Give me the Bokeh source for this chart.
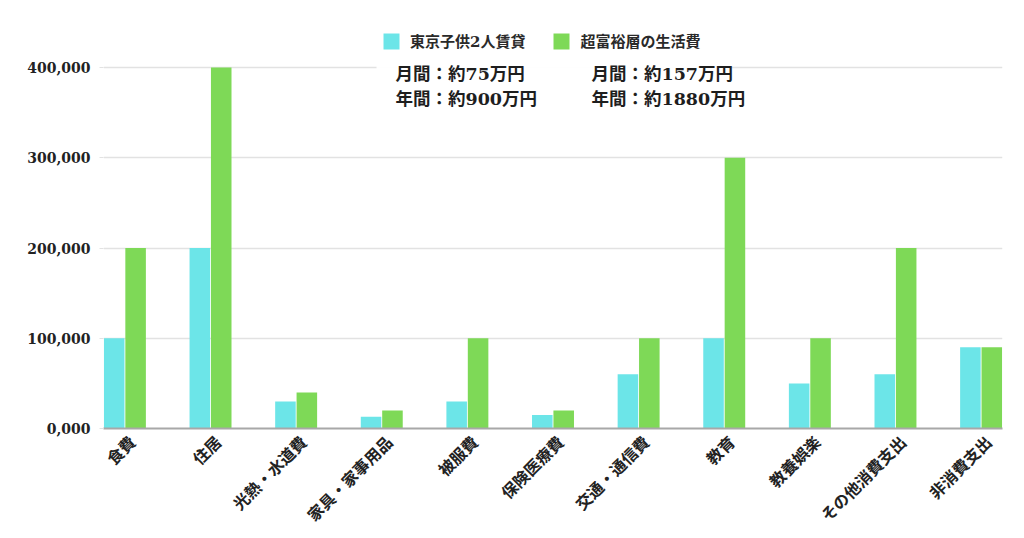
import numpy as np
from bokeh.plotting import figure
from bokeh.models import (ColumnDataSource, Range1d, FixedTicker, Legend, LegendItem,
                          Label, BoxAnnotation)
from bokeh.embed import file_html
from bokeh.resources import INLINE
from math import pi

categories = ["食費", "住居", "光熱・水道費", "家具・家事用品", "被服費", "保険医療費",
              "交通・通信費", "教育", "教養娯楽", "その他消費支出", "非消費支出"]
tokyo_rent = [100000, 200000, 30000, 13000, 30000, 15000, 60000, 100000, 50000, 60000, 90000]
wealthy = [200000, 400000, 40000, 20000, 100000, 20000, 100000, 300000, 100000, 200000, 90000]
series_names = ["東京子供2人賃貸", "超富裕層の生活費"]
y_ticks = [0, 100000, 200000, 300000, 400000]
y_tick_labels = ["0,000", "100,000", "200,000", "300,000", "400,000"]
notes_left = ["月間：約75万円", "年間：約900万円"]
notes_right = ["月間：約157万円", "年間：約1880万円"]

CYAN = "#6ce5e8"
GREEN = "#7ed957"
FONT = "DejaVu Serif, Noto Sans CJK JP"

# layout (pixels)
W, H = 1024, 538
FRAME_TOP, FRAME_BOTTOM, FRAME_LEFT, FRAME_RIGHT = 25, 428, 103, 1002
TOP_TICK_PX = 67  # pixel row of the highest tick
y_end = y_ticks[-1] * (FRAME_BOTTOM - FRAME_TOP) / (FRAME_BOTTOM - TOP_TICK_PX)
LABEL_SHIFT = 0.095  # x-label anchor offset (category units)

idx = np.arange(len(categories))
src = ColumnDataSource(dict(
    x1=idx - 0.125, x2=idx + 0.125, a=tokyo_rent, b=wealthy))

p = figure(width=W, height=H, output_backend="svg", toolbar_location=None,
           x_range=Range1d(-0.25, len(categories) - 0.75), y_range=Range1d(0, y_end),
           min_border_left=FRAME_LEFT, min_border_right=W - FRAME_RIGHT,
           min_border_top=FRAME_TOP, min_border_bottom=H - FRAME_BOTTOM)
p.outline_line_color = None
p.background_fill_color = "white"

r1 = p.vbar(x="x1", top="a", width=0.24, source=src, fill_color=CYAN, line_color=None)
r2 = p.vbar(x="x2", top="b", width=0.24, source=src, fill_color=GREEN, line_color=None)

# axes
p.xgrid.grid_line_color = None
p.ygrid.grid_line_color = "#e2e2e2"
p.ygrid.grid_line_width = 1.5
p.yaxis.ticker = FixedTicker(ticks=y_ticks)
p.yaxis.major_label_overrides = {t: l for t, l in zip(y_ticks, y_tick_labels)}
p.yaxis.axis_line_color = None
p.yaxis.major_tick_in = 0
p.yaxis.major_tick_out = 4
p.yaxis.major_tick_line_color = "#e2e2e2"
p.yaxis.minor_tick_line_color = None
p.yaxis.major_label_standoff = 9
p.yaxis.major_label_text_font = FONT
p.yaxis.major_label_text_font_style = "bold"
p.yaxis.major_label_text_font_size = "14px"
p.yaxis.major_label_text_color = "#222222"

x_ticks = [float(i) + LABEL_SHIFT for i in idx]
p.xaxis.ticker = FixedTicker(ticks=x_ticks)
p.xaxis.major_label_overrides = {t: c for t, c in zip(x_ticks, categories)}
p.xaxis.major_label_orientation = pi / 4
p.xaxis.axis_line_color = "#a8a8a8"
p.xaxis.axis_line_width = 2
p.xaxis.major_tick_line_color = None
p.xaxis.minor_tick_line_color = None
p.xaxis.major_tick_out = 0
p.xaxis.major_tick_in = 0
p.xaxis.major_label_standoff = 11
p.xaxis.major_label_text_font = FONT
p.xaxis.major_label_text_font_style = "bold"
p.xaxis.major_label_text_font_size = "16px"
p.xaxis.major_label_text_color = "#222222"

# legend (frame-relative position, from bottom-left of the frame)
legend = Legend(items=[LegendItem(label=series_names[0], renderers=[r1]),
                       LegendItem(label=series_names[1], renderers=[r2])],
                orientation="horizontal",
                location=(381 - FRAME_LEFT, FRAME_BOTTOM - 51),
                padding=0, margin=0, spacing=26, label_standoff=9,
                glyph_width=20, glyph_height=20, label_height=20,
                border_line_color=None, background_fill_alpha=0,
                label_text_font=FONT, label_text_font_style="bold",
                label_text_font_size="15px", label_text_color="#2a2a2a")
p.add_layout(legend, "center")

# white box behind the notes
p.add_layout(BoxAnnotation(left=376 - FRAME_LEFT, right=728 - FRAME_LEFT,
                           top=FRAME_BOTTOM - 58, bottom=FRAME_BOTTOM - 112,
                           left_units="screen", right_units="screen",
                           top_units="screen", bottom_units="screen",
                           fill_color="white", fill_alpha=0.95, line_color=None))

for col_x, notes in ((395, notes_left), (591, notes_right)):
    for k, t in enumerate(notes):
        p.add_layout(Label(x=col_x - FRAME_LEFT, y=FRAME_BOTTOM - (73 + 25 * k),
                           x_units="screen", y_units="screen",
                           text=t, text_font=FONT, text_font_style="bold",
                           text_font_size="17.5px", text_color="#1e1e1e",
                           text_baseline="middle", text_align="left"))

open("out.html", "w").write(file_html(p, INLINE))
